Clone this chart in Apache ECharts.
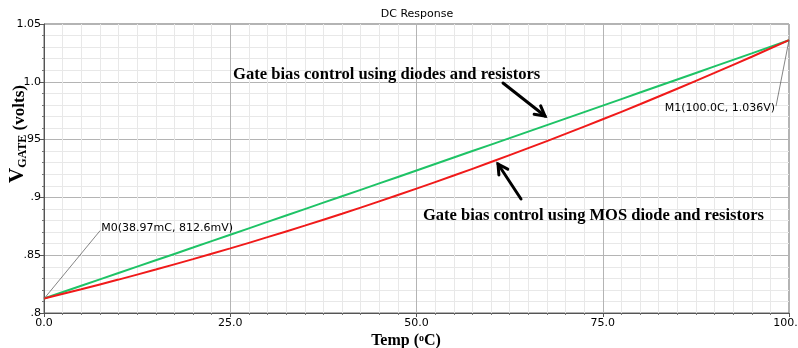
<!DOCTYPE html>
<html>
<head>
<meta charset="utf-8">
<script src="https://cdn.jsdelivr.net/npm/echarts@6/dist/echarts.min.js"></script>
<style>html,body{margin:0;padding:0;background:#fff}#c{width:798px;height:348px}</style>
</head>
<body>
<div id="c"></div>
<script>
const temps = [0,5,10,15,20,25,30,35,40,45,50,55,60,65,70,75,80,85,90,95,100];
const vDiodes = [0.8126,0.8236,0.8346,0.8456,0.8566,0.8677,0.8788,0.8899,0.9010,0.9121,0.9233,0.9345,0.9457,0.9569,0.9681,0.9794,0.9907,1.0020,1.0133,1.0246,1.0360];
const vMosDiode = [0.8126,0.8206,0.8289,0.8376,0.8466,0.8559,0.8656,0.8756,0.8859,0.8966,0.9076,0.9189,0.9306,0.9426,0.9549,0.9676,0.9806,0.9940,1.0077,1.0217,1.0360];
const xTickLabels = ['0.0','25.0','50.0','75.0','100.0'];
const yTickLabels = ['.8','.85','.9','.95','1.0','1.05'];
const markerM0 = {t:0.03897, v:0.8126, text:'M0(38.97mC, 812.6mV)'};
const markerM1 = {t:100.0, v:1.036, text:'M1(100.0C, 1.036V)'};
const titleText = 'DC Response';
const noteDiodes = 'Gate bias control using diodes and resistors';
const noteMos = 'Gate bias control using MOS diode and resistors';

const chart = echarts.init(document.getElementById('c'), null, {renderer:'canvas'});
const tickFont = {fontFamily:'DejaVu Sans', fontSize:11, color:'#000'};
const option = {
  animation:false,
  backgroundColor:'#fff',
  title:{text:titleText, left:412, top:4, textAlign:'center',
    textStyle:{fontFamily:'DejaVu Sans', fontSize:11, fontWeight:'normal', color:'#000'}},
  grid:{left:44, right:9, top:24, bottom:35, containLabel:false, outerBoundsMode:'none',
    show:true, borderColor:'#666', borderWidth:1, backgroundColor:'transparent'},
  xAxis:{type:'value', min:0, max:100, interval:25,
    axisLine:{show:true, lineStyle:{color:'#555'}},
    axisTick:{show:true, length:4, lineStyle:{color:'#555'}},
    minorTick:{show:true, splitNumber:10, length:2, lineStyle:{color:'#777'}},
    splitLine:{show:true, lineStyle:{color:'#b4b4b4', width:1}},
    minorSplitLine:{show:true, lineStyle:{color:'#e8e8e8', width:1}},
    axisLabel:Object.assign({margin:5, hideOverlap:false, formatter:v=>xTickLabels[Math.round(v/25)]}, tickFont)
  },
  yAxis:{type:'value', min:0.8, max:1.05, interval:0.05,
    axisLine:{show:true, lineStyle:{color:'#555'}},
    axisTick:{show:true, length:4, lineStyle:{color:'#555'}},
    minorTick:{show:true, splitNumber:5, length:2, lineStyle:{color:'#777'}},
    splitLine:{show:true, lineStyle:{color:'#b4b4b4', width:1}},
    minorSplitLine:{show:true, lineStyle:{color:'#e8e8e8', width:1}},
    axisLabel:Object.assign({margin:3, formatter:v=>yTickLabels[Math.round((v-0.8)/0.05)]}, tickFont)
  },
  series:[
    {type:'line', name:'diodes', data:temps.map((t,i)=>[t,vDiodes[i]]), showSymbol:false, smooth:true,
      lineStyle:{color:'#1ec366', width:2}, z:3},
    {type:'line', name:'mos', data:temps.map((t,i)=>[t,vMosDiode[i]]), showSymbol:false, smooth:true,
      lineStyle:{color:'#f01a1a', width:2}, z:4}
  ]
};
chart.setOption(option);

function px(t,v){ return chart.convertToPixel({gridIndex:0}, [t,v]); }
function arrow(x1,y1,x2,y2){
  const ang = Math.atan2(y2-y1, x2-x1), L = 11, spread = 0.5;
  const a = [x2 - L*Math.cos(ang-spread), y2 - L*Math.sin(ang-spread)];
  const b = [x2 - L*Math.cos(ang+spread), y2 - L*Math.sin(ang+spread)];
  return [
    {type:'line', shape:{x1:x1,y1:y1,x2:x2,y2:y2}, style:{stroke:'#000', lineWidth:3, lineCap:'round'}, z:10},
    {type:'polyline', shape:{points:[a,[x2,y2],b]}, style:{stroke:'#000', lineWidth:3, fill:null, lineJoin:'miter', lineCap:'round'}, z:10}
  ];
}
const p0 = px(markerM0.t, markerM0.v);
const p1 = px(markerM1.t, markerM1.v);
const markerFont = '11px "DejaVu Sans"';
const serifBold = '"Liberation Serif", "Times New Roman", serif';
const graphics = [
  {type:'line', shape:{x1:p0[0],y1:p0[1],x2:p0[0]+56,y2:p0[1]-68}, style:{stroke:'#666', lineWidth:0.8}, z:9},
  {type:'text', x:p0[0]+57, y:p0[1]-70, style:{text:markerM0.text, font:markerFont, fill:'#000', textAlign:'left', textVerticalAlign:'middle'}, z:9},
  {type:'line', shape:{x1:p1[0],y1:p1[1],x2:p1[0]-13,y2:p1[1]+66}, style:{stroke:'#666', lineWidth:0.8}, z:9},
  {type:'text', x:p1[0]-14, y:p1[1]+68, style:{text:markerM1.text, font:markerFont, fill:'#000', textAlign:'right', textVerticalAlign:'middle'}, z:9},
  {type:'text', x:233, y:75, style:{text:noteDiodes, font:'bold 16.6px '+serifBold, fill:'#000', textAlign:'left', textVerticalAlign:'middle'}, z:10},
  {type:'text', x:423, y:216, style:{text:noteMos, font:'bold 16.5px '+serifBold, fill:'#000', textAlign:'left', textVerticalAlign:'middle'}, z:10},
  ...arrow(503,83,545,116),
  ...arrow(521,199,498,164),
  {type:'text', x:406, y:341, style:{
    text:'{a|Temp (}{s|o}{a|C)}', textAlign:'center', textVerticalAlign:'middle',
    rich:{a:{font:'bold 16px '+serifBold, fill:'#000'}, s:{font:'bold 10px '+serifBold, fill:'#000', verticalAlign:'top', padding:[0,0,6,0]}}
  }, z:10},
  {type:'text', x:18, y:134, rotation:Math.PI/2, style:{
    text:'{v|V}{g|GATE}{a| (volts)}', textAlign:'center', textVerticalAlign:'middle',
    rich:{v:{font:'bold 21px '+serifBold, fill:'#000', verticalAlign:'bottom'}, g:{font:'bold 12px '+serifBold, fill:'#000', verticalAlign:'bottom'}, a:{font:'bold 17px '+serifBold, fill:'#000', verticalAlign:'bottom'}}
  }, z:10}
];
chart.setOption({graphic:graphics});
</script>
</body>
</html>
